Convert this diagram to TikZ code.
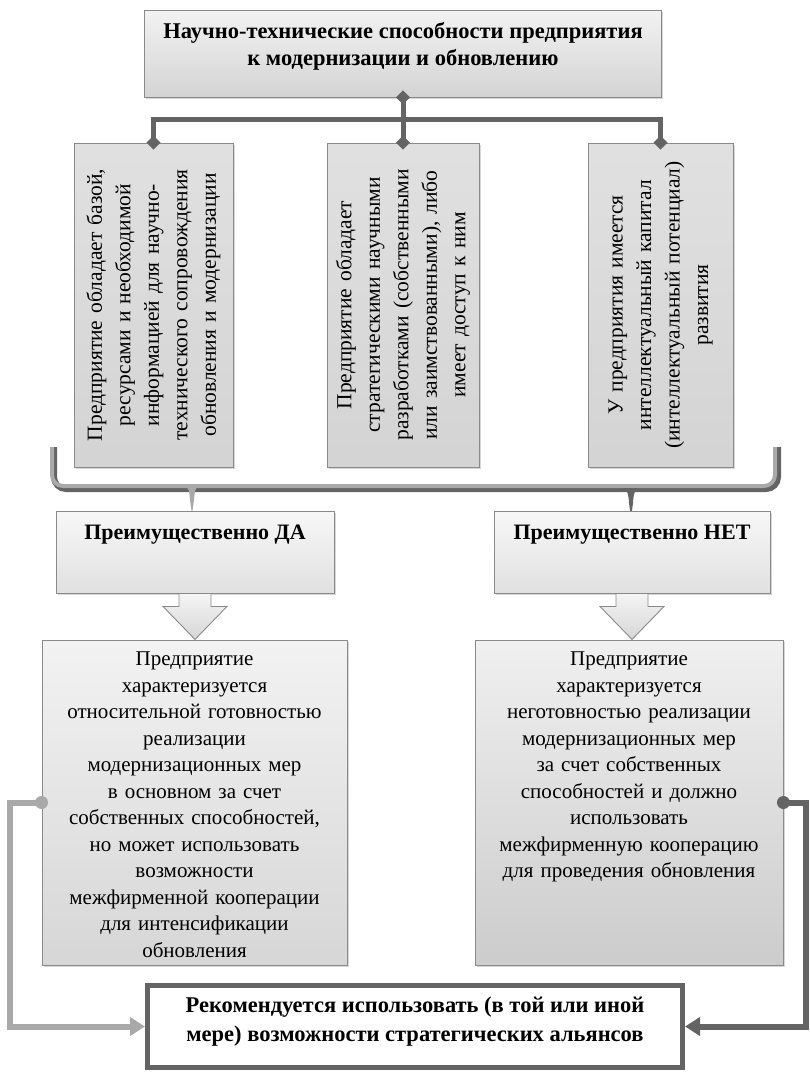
\documentclass[tikz,border=0pt]{standalone}
\usepackage{fontspec}
\setmainfont{Liberation Serif}
\usetikzlibrary{positioning,shadows,arrows.meta}

\definecolor{lineDark}{HTML}{646464}
\definecolor{lineLight}{HTML}{A9A9A9}
\definecolor{boxEdge}{HTML}{8A8A8A}

\begin{document}
\begin{tikzpicture}[x=1pt, y=-1pt,
  shadebox/.style={draw=boxEdge, line width=0.9pt, top color=gray!12, bottom color=gray!38,
    drop shadow={shadow xshift=1.5pt, shadow yshift=-1.5pt, fill=gray!70, opacity=0.45}},
  colbox/.style={shadebox, top color=gray!24, bottom color=gray!34},
  coltext/.style={rotate=90, align=center, text width=310pt, inner sep=0pt,
    font=\fontsize{21.5}{28.5}\selectfont},
  infotext/.style={anchor=north, align=center, text width=300pt, inner sep=0pt,
    font=\fontsize{21}{26.5}\selectfont},
  headtext/.style={anchor=north, align=center, inner sep=0pt,
    font=\fontsize{22.5}{26.5}\selectfont\bfseries},
  conn/.style={lineDark, line width=5pt},
  blockarrow/.style={draw=boxEdge, line width=0.9pt, top color=gray!8, bottom color=gray!32}]

\useasboundingbox (0,0) rectangle (809,1074);

% top of the tree
\node[shadebox, top color=gray!10, bottom color=gray!34, minimum width=517pt, minimum height=87pt] (title) at (403,53.5) {};
\node[headtext, below=13pt of title.north] (titleText) {Научно-технические способности предприятия\\к модернизации и обновлению};

\node[colbox, minimum width=159pt, minimum height=324pt] (base) at (153.5,305) {};
\node[coltext] (baseText) at (base) {Предприятие обладает базой,\\ресурсами и необходимой\\информацией для научно-\\технического сопровождения\\обновления и модернизации};

\node[colbox, minimum width=152pt, minimum height=324pt] (strat) at (403,305) {};
\node[coltext] (stratText) at (strat) {Предприятие обладает\\стратегическими научными\\разработками (собственными\\или заимствованными), либо\\имеет доступ к ним};

\node[colbox, minimum width=145pt, minimum height=324pt] (intel) at (660.5,305) {};
\node[coltext] (intelText) at (intel) {У предприятия имеется\\интеллектуальный капитал\\(интеллектуальный потенциал)\\развития};

\draw[conn] (title.south) -- (strat.north);
\draw[conn] (base.north) -- ++(0,-23) -| (intel.north);
\foreach \n in {title.south, base.north, strat.north, intel.north}
  \fill[lineDark] (\n) +(0,-7) -- +(7,0) -- +(0,7) -- +(-7,0) -- cycle;

% brace
\draw[lineDark, line width=6pt, rounded corners=12pt] (54,447) -- (54,489) -- (778,489) -- (778,447);
\draw[lineLight, line width=4pt, rounded corners=11pt] (52,447) -- (52,486) -- (775,486) -- (775,447);
\fill[lineLight] (183,485) .. controls (189,486) and (189.5,492) .. (190,500) -- (192,514) -- (194,500) .. controls (194.5,492) and (195,486) .. (201,485) -- cycle;
\fill[lineDark] (622,488) .. controls (628,489) and (628.5,495) .. (629,503) -- (631,518) -- (633,503) .. controls (633.5,495) and (634,489) .. (640,488) -- cycle;

% answers
\node[shadebox, top color=gray!6, bottom color=gray!24, minimum width=278pt, minimum height=82pt] (yes) at (195,552) {};
\node[headtext, font=\fontsize{22}{26}\selectfont\bfseries, below=14pt of yes.north] (yesText) {Преимущественно ДА};

\node[shadebox, top color=gray!6, bottom color=gray!24, minimum width=276pt, minimum height=82pt] (no) at (632,552) {};
\node[headtext, font=\fontsize{22}{26}\selectfont\bfseries, below=14pt of no.north] (noText) {Преимущественно НЕТ};

\foreach \a in {yes, no}
  \draw[blockarrow] (\a.south) ++(-16,0) -- ++(0,13) -- ++(-16,0) -- ++(32,33) -- ++(32,-33) -- ++(-16,0) -- ++(0,-13) -- cycle;

\node[shadebox, top color=gray!10, bottom color=gray!32, minimum width=305pt, minimum height=325pt] (yesInfo) at (194.5,802.5) {};
\node[infotext, below=12pt of yesInfo.north] (yesInfoText) {Предприятие\\характеризуется\\относительной готовностью\\реализации\\модернизационных мер\\в основном за счет\\собственных способностей,\\но может использовать\\возможности\\межфирменной кооперации\\для интенсификации\\обновления};

\node[shadebox, top color=gray!12, bottom color=gray!40, minimum width=308pt, minimum height=325pt] (noInfo) at (629,802.5) {};
\node[infotext, below=12pt of noInfo.north] (noInfoText) {Предприятие\\характеризуется\\неготовностью реализации\\модернизационных мер\\за счет собственных\\способностей и должно\\использовать\\межфирменную кооперацию\\для проведения обновления};

% recommendation
\node[draw=lineDark, line width=5pt, fill=white, minimum width=535pt, minimum height=82pt] (rec) at (415,1026.5) {};
\node[headtext, font=\fontsize{22.5}{29}\selectfont\bfseries, below=14pt of rec.north] (recText) {Рекомендуется использовать (в той или иной\\мере) возможности стратегических альянсов};

\draw[lineLight, line width=6pt, -{Triangle[length=15pt,width=18pt]}] (yesInfo.west) -- ++(-32,0) |- (rec.west);
\fill[lineLight] (yesInfo.west) circle (6.5);
\draw[lineDark, line width=6pt, -{Triangle[length=15pt,width=18pt]}] (noInfo.east) -- ++(23,0) |- (rec.east);
\fill[lineDark] (noInfo.east) circle (6.5);
\end{tikzpicture}
\end{document}
